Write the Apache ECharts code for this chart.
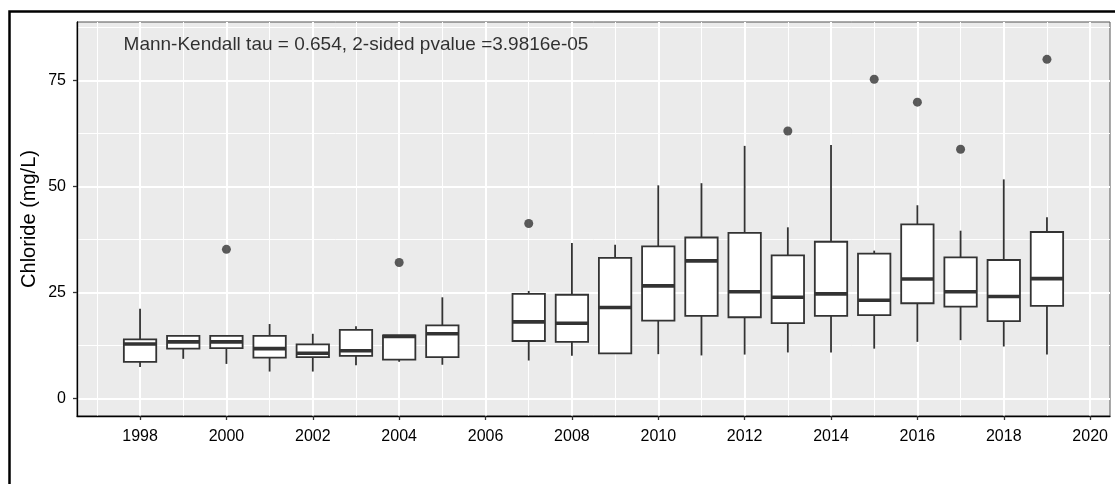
<!DOCTYPE html>
<html>
<head>
<meta charset="utf-8">
<title>Chloride boxplot</title>
<script src="https://cdn.jsdelivr.net/npm/echarts@6/dist/echarts.min.js"></script>
<style>
  html, body { margin: 0; padding: 0; background: #fff; }
  #chart { width: 1115px; height: 484px; }
</style>
</head>
<body>
<div id="chart"></div>
<script>
// Yearly chloride samples, summarised as box plots (mg/L)
const years        = [1998, 1999, 2000, 2001, 2002, 2003, 2004, 2005, 2007, 2008, 2009, 2010, 2011, 2012, 2013, 2014, 2015, 2016, 2017, 2018, 2019];
const whiskerLow   = [7.5, 9.4, 8.2, 6.4, 6.4, 7.9, 8.7, 8.0, 9.0, 10.1, 10.6, 10.5, 10.2, 10.4, 10.9, 10.9, 11.8, 13.4, 13.8, 12.3, 10.4];
const quartile1    = [8.7, 11.8, 11.9, 9.7, 9.8, 10.1, 9.2, 9.8, 13.6, 13.4, 10.7, 18.4, 19.5, 19.2, 17.8, 19.5, 19.7, 22.5, 21.7, 18.3, 21.9];
const medians      = [12.9, 13.4, 13.4, 11.8, 10.7, 11.3, 14.7, 15.3, 18.1, 17.8, 21.5, 26.6, 32.5, 25.2, 23.9, 24.7, 23.2, 28.2, 25.2, 24.1, 28.3];
const quartile3    = [14.0, 14.8, 14.8, 14.8, 12.8, 16.2, 14.9, 17.3, 24.7, 24.5, 33.2, 35.9, 38.0, 39.1, 33.8, 37.0, 34.2, 41.1, 33.3, 32.7, 39.3];
const whiskerHigh  = [21.2, 15.0, 14.9, 17.6, 15.3, 17.1, 14.9, 23.9, 25.4, 36.7, 36.3, 50.3, 50.8, 59.6, 40.4, 59.8, 34.9, 45.6, 39.6, 51.7, 42.8];

const outlierYears  = [2000, 2004, 2007, 2013, 2015, 2016, 2017, 2019];
const outlierValues = [35.2, 32.1, 41.3, 63.1, 75.3, 69.9, 58.8, 80.0];

// Axis ticks and gridlines
const xTicks      = [1998, 2000, 2002, 2004, 2006, 2008, 2010, 2012, 2014, 2016, 2018, 2020];
const xMinorLines = [1997, 1999, 2001, 2003, 2005, 2007, 2009, 2011, 2013, 2015, 2017, 2019];
const yTicks      = [0, 25, 50, 75];
const yMinorLines = [12.5, 37.5, 62.5, 87.5];

const annotation = 'Mann-Kendall tau = 0.654, 2-sided pvalue =3.9816e-05';
const annotationAt = [2003, 83.4];

const FONT = "'Liberation Sans', Arial, sans-serif";
const BOX_WIDTH = 0.75; // in years, like ggplot's default

const boxData = years.map((y, i) => [y, whiskerLow[i], quartile1[i], medians[i], quartile3[i], whiskerHigh[i]]);
const outlierData = outlierYears.map((y, i) => [y, outlierValues[i]]);

const gridLines = [];
xTicks.forEach(v => gridLines.push({ xAxis: v, lineStyle: { width: 2 } }));
xMinorLines.forEach(v => gridLines.push({ xAxis: v, lineStyle: { width: 1 } }));
yTicks.forEach(v => gridLines.push({ yAxis: v, lineStyle: { width: 2 } }));
yMinorLines.forEach(v => gridLines.push({ yAxis: v, lineStyle: { width: 1 } }));

function renderBox(params, api) {
    const x = api.value(0);
    const lo = api.coord([x, api.value(1)]);
    const q1 = api.coord([x, api.value(2)]);
    const md = api.coord([x, api.value(3)]);
    const q3 = api.coord([x, api.value(4)]);
    const hi = api.coord([x, api.value(5)]);
    const half = api.size([BOX_WIDTH, 0])[0] / 2;
    const line = { stroke: '#333333', lineWidth: 1.8 };
    return {
        type: 'group',
        children: [
            { type: 'line', shape: { x1: lo[0], y1: lo[1], x2: q1[0], y2: q1[1] }, style: line },
            { type: 'line', shape: { x1: q3[0], y1: q3[1], x2: hi[0], y2: hi[1] }, style: line },
            { type: 'rect', shape: { x: q3[0] - half, y: q3[1], width: half * 2, height: q1[1] - q3[1] },
              style: { fill: '#ffffff', stroke: '#333333', lineWidth: 1.8 } },
            { type: 'line', shape: { x1: md[0] - half, y1: md[1], x2: md[0] + half, y2: md[1] },
              style: { stroke: '#333333', lineWidth: 3.6 } }
        ]
    };
}

const chart = echarts.init(document.getElementById('chart'));

const option = {
    animation: false,
    backgroundColor: '#ffffff',
    textStyle: { fontFamily: FONT },
    grid: {
        left: 77, top: 22, right: 5, bottom: 68,
        show: true, backgroundColor: '#EBEBEB', borderColor: '#555555', borderWidth: 1
    },
    xAxis: {
        type: 'value',
        min: 1996.54, max: 2020.46,
        axisLine: { show: true, onZero: false, lineStyle: { color: '#000', width: 1.3 } },
        axisTick: { show: true, length: 4, customValues: xTicks, lineStyle: { color: '#333', width: 1.3 } },
        axisLabel: {
            customValues: xTicks, color: '#000', fontSize: 16, margin: 13, fontFamily: FONT,
            formatter: v => String(v)
        },
        splitLine: { show: false }
    },
    yAxis: {
        type: 'value',
        min: -4.08, max: 88.8,
        name: 'Chloride (mg/L)',
        nameLocation: 'middle',
        nameGap: 38,
        nameMoveOverlap: false,
        nameTextStyle: { color: '#000', fontSize: 20, fontFamily: FONT },
        axisLine: { show: true, onZero: false, lineStyle: { color: '#000', width: 1.3 } },
        axisTick: { show: true, length: 4, customValues: yTicks, lineStyle: { color: '#333', width: 1.3 } },
        axisLabel: { customValues: yTicks, color: '#000', fontSize: 16, margin: 11, fontFamily: FONT },
        splitLine: { show: false }
    },
    series: [
        {
            // panel gridlines, ggplot style
            type: 'line',
            data: [],
            z: 0,
            silent: true,
            markLine: {
                silent: true,
                z: 0,
                symbol: 'none',
                animation: false,
                label: { show: false },
                lineStyle: { color: '#ffffff', type: 'solid', width: 1 },
                data: gridLines
            }
        },
        {
            type: 'custom',
            z: 6,
            renderItem: renderBox,
            data: boxData
        },
        {
            type: 'scatter',
            z: 7,
            symbol: 'circle',
            symbolSize: 9,
            itemStyle: { color: '#333333' },
            data: outlierData
        },
        {
            type: 'scatter',
            z: 8,
            symbolSize: 0,
            silent: true,
            data: [annotationAt],
            label: {
                show: true,
                position: 'inside',
                formatter: annotation,
                color: '#000',
                fontSize: 19,
                fontFamily: FONT
            }
        }
    ],
    graphic: [
        {
            // outer frame of the original figure
            type: 'rect',
            left: 7, top: 9,
            shape: { width: 1200, height: 600 },
            style: { fill: 'none', stroke: '#000', lineWidth: 2.5 },
            silent: true
        }
    ]
};

chart.setOption(option);
</script>
</body>
</html>
